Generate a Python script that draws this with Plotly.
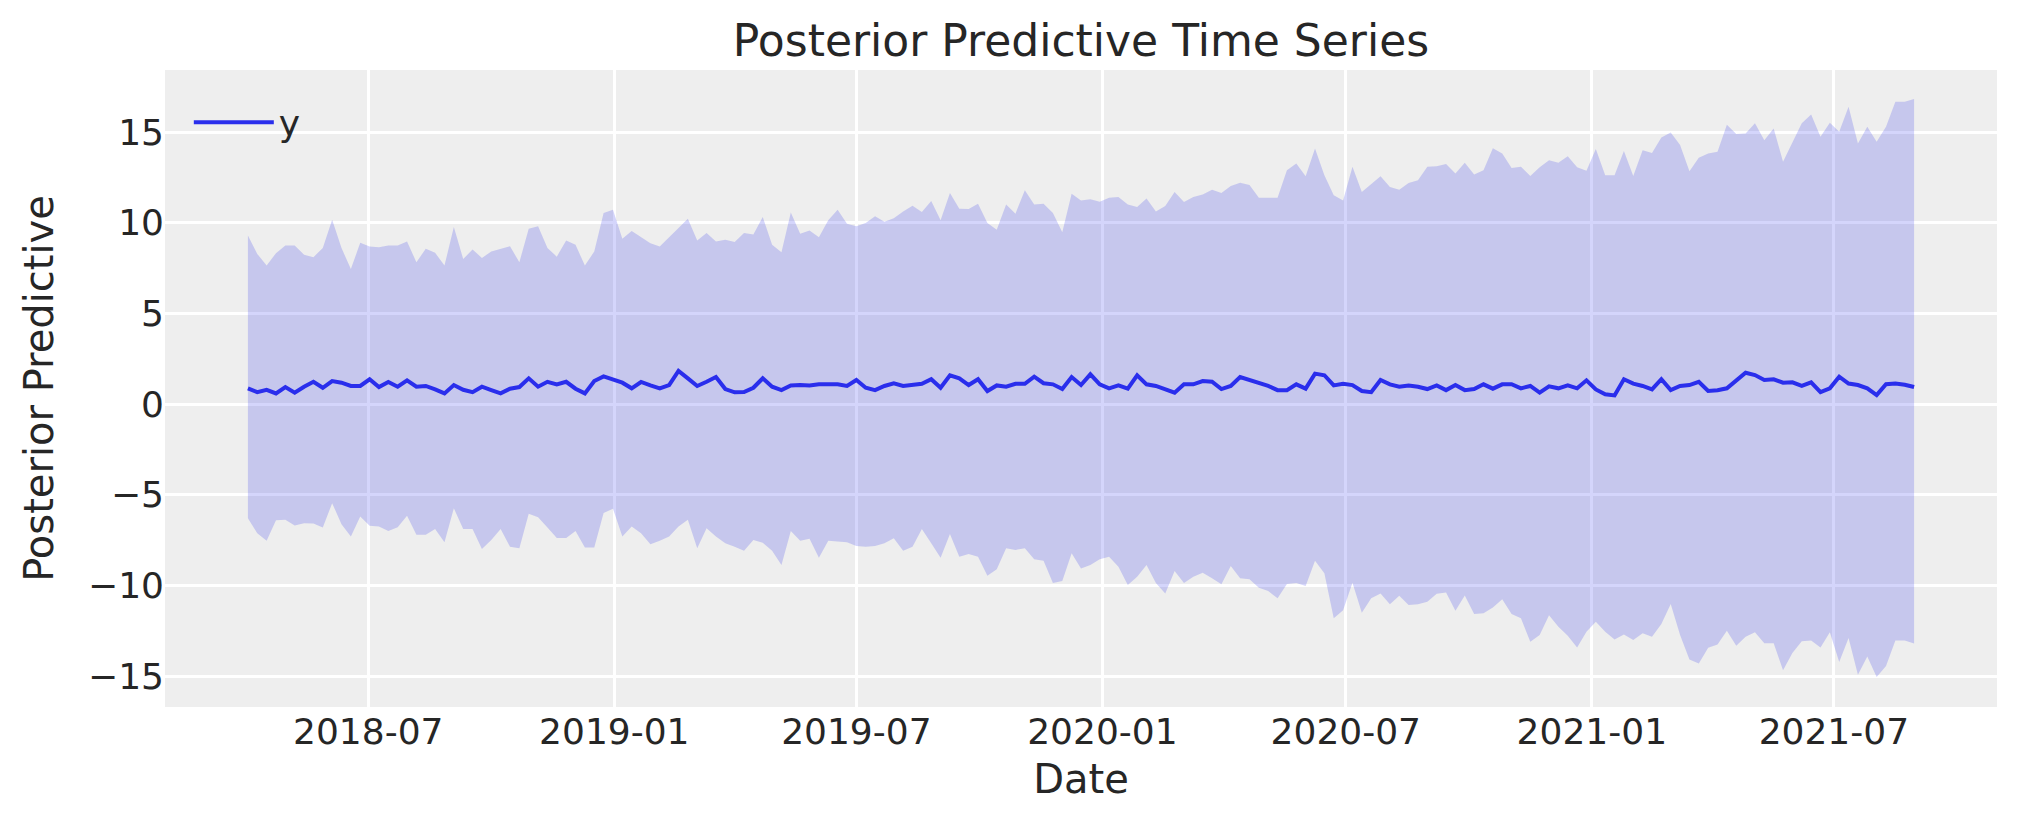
import pandas as pd
import plotly.graph_objects as go

# ---- data ----
start_date = "2018-04-02"
n_weeks = 179
dates = pd.date_range(start=start_date, periods=n_weeks, freq="W-MON")

upper = [
    9.3, 8.28, 7.64, 8.32, 8.74, 8.74, 8.23, 8.1, 8.6, 10.17,
    8.6, 7.45, 8.89, 8.69, 8.65, 8.74, 8.74, 8.96, 7.82, 8.56,
    8.34, 7.64, 9.76, 8.0, 8.52, 8.06, 8.41, 8.56, 8.7, 7.82,
    9.67, 9.8, 8.6, 8.13, 9.02, 8.78, 7.64, 8.41, 10.53, 10.72,
    9.11, 9.54, 9.2, 8.87, 8.69, 9.2, 9.72, 10.22, 9.02, 9.43,
    8.96, 9.06, 8.94, 9.43, 9.35, 10.31, 8.78, 8.37, 10.57, 9.39,
    9.57, 9.2, 10.13, 10.72, 9.94,
    9.81, 9.98, 10.35, 10.05, 10.24, 10.62, 10.94, 10.59, 11.2, 10.13,
    11.64, 10.77, 10.75, 11.05, 9.98, 9.61, 11.01, 10.5, 11.79, 11.01,
    11.05, 10.53, 9.48, 11.6, 11.23, 11.29, 11.16, 11.38, 11.42, 11.0,
    10.86, 11.33, 10.62, 10.92,
    11.7, 11.14, 11.42, 11.55, 11.82, 11.64, 12.03, 12.21, 12.08, 11.38,
    11.4, 11.38, 12.89, 13.26, 12.56, 14.09, 12.62, 11.51, 11.23, 13.08,
    11.69, 12.12, 12.56, 11.97, 11.82, 12.19, 12.34, 13.08, 13.12, 13.24,
    12.71, 13.3, 12.66, 12.89, 14.11, 13.82,
    13.02, 13.08, 12.58, 13.06, 13.45, 13.3, 13.67, 13.06, 12.86, 14.06,
    12.62, 12.62, 13.95, 12.58, 14.0, 13.85, 14.7, 14.98, 14.28, 12.84,
    13.58, 13.82, 13.91, 15.4, 14.89, 14.92, 15.48, 14.55, 15.2, 13.36,
    14.46, 15.48, 15.97, 14.74, 15.51, 15.01, 16.4, 14.37, 15.29, 14.46,
    15.29, 16.67, 16.67, 16.82,
]

mean = [
    0.87, 0.66, 0.79, 0.59, 0.94, 0.63, 0.96, 1.23, 0.9, 1.27,
    1.18, 1.0, 1.0, 1.37, 0.94, 1.22, 0.96, 1.31, 0.96, 1.0,
    0.81, 0.59, 1.05, 0.79, 0.66, 0.96, 0.77, 0.59, 0.85, 0.94,
    1.42, 0.96, 1.23, 1.09, 1.23, 0.85, 0.59, 1.27, 1.53, 1.37,
    1.18, 0.87, 1.22, 1.03, 0.87, 1.05, 1.83, 1.42, 1.0, 1.23,
    1.49, 0.83, 0.65, 0.66, 0.9, 1.42, 0.96, 0.77, 1.03, 1.05,
    1.03, 1.09, 1.09, 1.09, 1.0,
    1.33, 0.9, 0.77, 1.0, 1.15, 1.0, 1.05, 1.12, 1.37, 0.9,
    1.59, 1.42, 1.05, 1.37, 0.72, 1.03, 0.96, 1.12, 1.12, 1.51,
    1.15, 1.09, 0.83, 1.49, 1.05, 1.64, 1.09, 0.87, 1.03, 0.85,
    1.59, 1.09, 1.0, 0.83,
    0.63, 1.09, 1.09, 1.27, 1.23, 0.83, 1.0, 1.49, 1.33, 1.15,
    1.0, 0.77, 0.77, 1.09, 0.85, 1.68, 1.59, 1.03, 1.12, 1.05,
    0.72, 0.66, 1.33, 1.09, 0.96, 1.03, 0.96, 0.83, 1.03, 0.77,
    1.05, 0.77, 0.83, 1.09, 0.85, 1.09,
    1.1, 0.87, 1.0, 0.63, 0.98, 0.87, 1.03, 0.87, 1.31, 0.81,
    0.54, 0.48, 1.37, 1.13, 1.0, 0.81, 1.37, 0.77, 1.0, 1.05,
    1.23, 0.72, 0.76, 0.87, 1.31, 1.73, 1.6, 1.33, 1.37, 1.18,
    1.2, 1.0, 1.2, 0.66, 0.87, 1.51, 1.13, 1.05, 0.87, 0.5,
    1.1, 1.13, 1.07, 0.94,
]

lower = [
    -6.29, -7.12, -7.54, -6.4, -6.38, -6.7, -6.57, -6.58, -6.81, -5.46,
    -6.62, -7.3, -6.2, -6.71, -6.75, -6.99, -6.79, -6.16, -7.21, -7.21,
    -6.88, -7.62, -5.74, -6.88, -6.88, -7.99, -7.49, -6.88, -7.86, -7.95,
    -6.05, -6.24, -6.81, -7.38, -7.38, -6.99, -7.9, -7.9, -6.01, -5.77,
    -7.3, -6.75, -7.12, -7.73, -7.53, -7.3, -6.75, -6.38, -7.95, -6.84,
    -7.3, -7.67, -7.86, -8.08, -7.49, -7.64, -8.08, -8.87, -6.99, -7.53,
    -7.43, -8.47, -7.53, -7.58, -7.62, -7.82, -7.86, -7.82, -7.67, -7.4,
    -8.08, -7.86, -6.88, -7.67, -8.47, -7.16, -8.41, -8.26, -8.41, -9.46,
    -9.11, -7.95, -8.04, -7.95, -8.56, -8.63, -9.87, -9.76, -8.23, -9.06,
    -8.87, -8.56, -8.41, -8.97, -9.98, -9.52, -8.87, -9.87, -10.44, -9.2,
    -9.87, -9.52, -9.3, -9.6, -9.93, -8.93, -9.6, -9.65, -10.13, -10.31,
    -10.71, -9.92, -9.87, -10.03, -8.63, -9.33, -11.81, -11.36, -9.85, -11.5,
    -10.71, -10.44, -11.04, -10.57, -11.07, -11.04, -10.9, -10.46, -10.39, -11.4,
    -10.55, -11.57, -11.53, -11.22, -10.76, -11.57, -11.81, -13.1, -12.73, -11.64,
    -12.27, -12.77, -13.42, -12.55, -12.0, -12.55, -12.98, -12.7, -13.0, -12.64,
    -12.82, -12.12, -11.02, -12.73, -14.08, -14.3, -13.43, -13.25, -12.49, -13.32,
    -12.82, -12.58, -13.19, -13.19, -14.67, -13.72, -13.08, -13.03, -13.42, -12.58,
    -14.22, -12.89, -14.92, -13.91, -15.05, -14.44, -13.03, -13.03, -13.2,
]

x_tick_vals = ["2018-07-01", "2019-01-01", "2019-07-01", "2020-01-01",
               "2020-07-01", "2021-01-01", "2021-07-01"]
x_tick_text = ["2018-07", "2019-01", "2019-07", "2020-01",
               "2020-07", "2021-01", "2021-07"]
y_tick_vals = [-15, -10, -5, 0, 5, 10, 15]
y_tick_text = ["\u221215", "\u221210", "\u22125", "0", "5", "10", "15"]

series_name = "y"
title_text = "Posterior Predictive Time Series"
x_label = "Date"
y_label = "Posterior Predictive"

# ---- style ----
LINE_COLOR = "#2a2eec"
FILL_COLOR = "rgba(42,46,236,0.2)"
TEXT_COLOR = "#262626"
FONT = "DejaVu Sans"

W, H = 2007, 807

fig = go.Figure()
fig.add_trace(go.Scatter(
    x=dates, y=lower, mode="lines", line=dict(width=0, color=LINE_COLOR),
    showlegend=False, hoverinfo="skip",
))
fig.add_trace(go.Scatter(
    x=dates, y=upper, mode="lines", line=dict(width=0, color=LINE_COLOR),
    fill="tonexty", fillcolor=FILL_COLOR, showlegend=False, hoverinfo="skip",
))
fig.add_trace(go.Scatter(
    x=dates, y=mean, mode="lines", name=series_name,
    line=dict(width=4, color=LINE_COLOR),
))

fig.update_layout(
    width=W, height=H,
    margin=dict(l=157, r=18, t=62, b=108),
    paper_bgcolor="white",
    plot_bgcolor="#eeeeee",
    font=dict(family=FONT, size=36, color=TEXT_COLOR),
    title=dict(text=title_text, font=dict(size=44, color=TEXT_COLOR),
               x=0.5, xref="paper", xanchor="center",
               y=1 - 33 / H, yref="container", yanchor="middle"),
    legend=dict(x=0.013, y=0.965, xanchor="left", yanchor="top",
                bgcolor="rgba(0,0,0,0)", font=dict(size=36),
                itemwidth=80),
    showlegend=True,
)
fig.update_xaxes(
    type="date",
    range=["2018-01-30", "2021-10-31"],
    tickvals=x_tick_vals, ticktext=x_tick_text,
    showgrid=True, gridcolor="white", gridwidth=2.5,
    zeroline=False, showline=False, ticks="",
    tickfont=dict(size=36, color=TEXT_COLOR),
    title=dict(text=x_label, font=dict(size=40, color=TEXT_COLOR), standoff=13),
)
fig.update_yaxes(
    range=[-16.7, 18.42],
    tickvals=y_tick_vals, ticktext=y_tick_text,
    showgrid=True, gridcolor="white", gridwidth=2.5,
    zeroline=False, showline=False, ticks="",
    tickfont=dict(size=36, color=TEXT_COLOR),
    title=dict(text=y_label, font=dict(size=40, color=TEXT_COLOR), standoff=22),
)

fig.write_html("out.html")
